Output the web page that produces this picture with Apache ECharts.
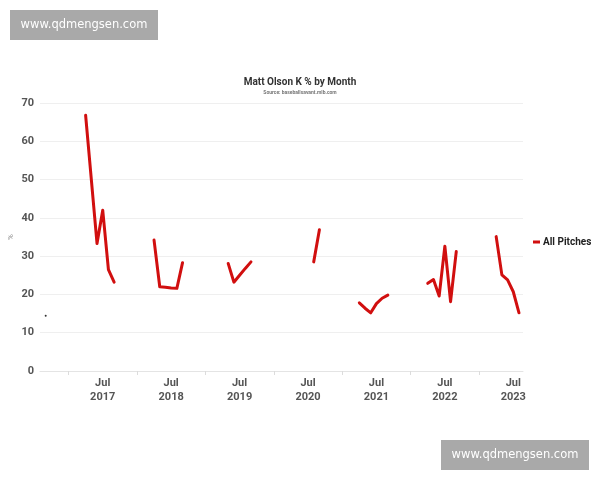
<!DOCTYPE html>
<html>
<head>
<meta charset="utf-8">
<script src="https://cdn.jsdelivr.net/npm/echarts@6/dist/echarts.min.js"></script>
<style>
html,body{margin:0;padding:0;background:#fff;}
#chart{width:600px;height:480px;}
</style>
</head>
<body>
<div id="chart"></div>
<script>
// Months (first of month) and K% values; null marks the off-season gap
const months = [
  '2016-09','2016-10',
  '2017-04','2017-06','2017-07','2017-08','2017-09','2017-10',
  '2018-04','2018-05','2018-06','2018-07','2018-08','2018-09','2018-10',
  '2019-05','2019-06','2019-07','2019-08','2019-09','2019-10',
  '2020-08','2020-09','2020-10',
  '2021-04','2021-05','2021-06','2021-07','2021-08','2021-09','2021-10',
  '2022-04','2022-05','2022-06','2022-07','2022-08','2022-09','2022-10',
  '2023-04','2023-05','2023-06','2023-07','2023-08'
];
const kPct = [
  14.4, null,
  66.8, 33.3, 42.0, 26.5, 23.2, null,
  34.2, 22.0, 21.9, 21.7, 21.6, 28.3, null,
  28.1, 23.2, 25.0, 26.8, 28.5, null,
  28.5, 36.9, null,
  17.8, 16.4, 15.2, 17.6, 19.0, 19.8, null,
  22.9, 23.9, 19.6, 32.6, 18.1, 31.2, null,
  35.1, 25.1, 23.8, 20.7, 15.2
];
const seriesName = 'All Pitches';
const labelYears = [2017, 2018, 2019, 2020, 2021, 2022, 2023];
const tickYears = [2017, 2018, 2019, 2020, 2021, 2022, 2023];

// month string -> fractional year (time scale as a number)
function monthPos(s) { const p = s.split('-'); return +p[0] + (+p[1] - 1) / 12; }

const seriesData = months.map((m, i) => {
  const item = { value: [monthPos(m), kPct[i] === null ? '-' : kPct[i]] };
  const prev = i > 0 ? kPct[i - 1] : null;
  const next = i < kPct.length - 1 ? kPct[i + 1] : null;
  if (kPct[i] !== null && prev === null && next === null) {
    item.symbol = 'circle';
    item.symbolSize = 2;
    item.itemStyle = { color: '#333', borderWidth: 0 };
  }
  return item;
});

const chart = echarts.init(document.getElementById('chart'), null, { renderer: 'canvas' });
const font = 'Roboto, "Liberation Sans", sans-serif';
chart.setOption({
  animation: false,
  backgroundColor: '#fff',
  title: {
    text: 'Matt Olson K % by Month',
    subtext: 'Source: baseballsavant.mlb.com',
    left: 'center',
    top: 72,
    itemGap: 3,
    textStyle: { fontFamily: font, fontSize: 10, fontWeight: 'bold', color: '#333' },
    subtextStyle: { fontFamily: font, fontSize: 5, fontWeight: 'bold', color: '#777' }
  },
  legend: {
    orient: 'vertical',
    left: 528,
    top: 232,
    icon: 'rect',
    itemWidth: 7,
    itemHeight: 3,
    itemGap: 4,
    textStyle: { fontFamily: font, fontSize: 10, fontWeight: 'bold', color: '#222', padding: [0, 0, 0, -2] },
    data: [seriesName]
  },
  grid: { left: 40, right: 77, top: 103, bottom: 109, containLabel: false, outerBoundsMode: 'none' },
  xAxis: {
    type: 'value',
    min: 2016 + 7 / 12,
    max: 2023.642,
    splitLine: { show: false },
    axisLine: { show: true, lineStyle: { color: '#e4e4e4', width: 1 } },
    axisTick: {
      show: true,
      customValues: tickYears,
      length: 4,
      lineStyle: { color: '#dcdcdc' }
    },
    axisLabel: {
      customValues: labelYears.map(y => y + 0.5),
      formatter: v => 'Jul\n' + Math.floor(v),
      fontFamily: font,
      fontSize: 11,
      fontWeight: 'bold',
      color: '#555',
      lineHeight: 14,
      margin: 5
    }
  },
  yAxis: {
    type: 'value',
    min: 0,
    max: 70,
    interval: 10,
    name: '%',
    nameLocation: 'middle',
    nameGap: 25,
    nameMoveOverlap: false,
    nameTextStyle: { fontFamily: font, fontSize: 8, color: '#888' },
    axisLine: { show: false },
    axisTick: { show: false },
    splitLine: { show: true, lineStyle: { color: '#efefef', width: 1 } },
    axisLabel: {
      fontFamily: font, fontSize: 11, fontWeight: 'bold', color: '#555', margin: 6
    }
  },
  series: [{
    name: seriesName,
    type: 'line',
    data: seriesData,
    symbol: 'none',
    showSymbol: true,
    connectNulls: false,
    color: '#d10f0f',
    lineStyle: { color: '#d10f0f', width: 3, join: 'round', cap: 'round' },
    emphasis: { disabled: true }
  }],
  graphic: [
    {
      type: 'group', left: 10, top: 10,
      children: [
        { type: 'rect', shape: { x: 0, y: 0, width: 148, height: 30 }, style: { fill: '#a9a9a9' } },
        { type: 'text', x: 74, y: 15, style: { text: 'www.qdmengsen.com', fill: '#fff', font: '11.5px "DejaVu Sans", sans-serif', align: 'center', verticalAlign: 'middle' } }
      ]
    },
    {
      type: 'group', left: 441, top: 440,
      children: [
        { type: 'rect', shape: { x: 0, y: 0, width: 148, height: 30 }, style: { fill: '#a9a9a9' } },
        { type: 'text', x: 74, y: 15, style: { text: 'www.qdmengsen.com', fill: '#fff', font: '11.5px "DejaVu Sans", sans-serif', align: 'center', verticalAlign: 'middle' } }
      ]
    }
  ]
});
</script>
</body>
</html>
